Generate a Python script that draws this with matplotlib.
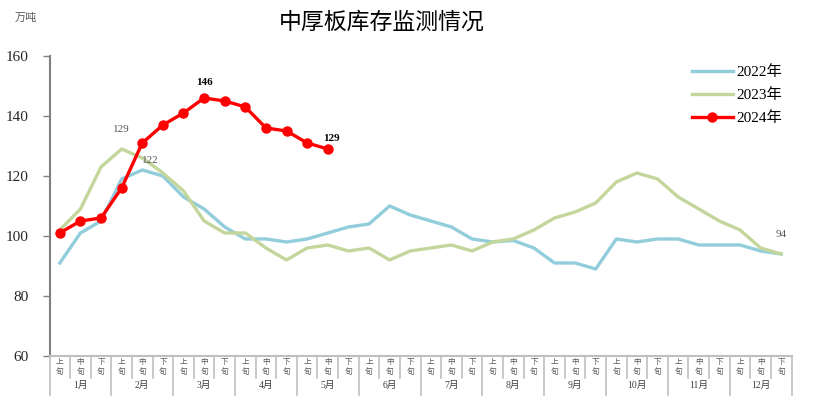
import matplotlib
matplotlib.use("Agg")
import matplotlib.pyplot as plt
import matplotlib.transforms as mtransforms
import numpy as np

plt.rcParams['font.family'] = ['Liberation Serif', 'Noto Sans CJK SC']

# -------------------- DADOS --------------------
meses = ["1月", "2月", "3月", "4月", "5月", "6月",
         "7月", "8月", "9月", "10月", "11月", "12月"]
xunhao = ["上\n旬", "中\n旬", "下\n旬"]

s2022 = [91, 101, 105, 119, 122, 120, 113, 109, 103, 99, 99, 98,
         99, 101, 103, 104, 110, 107, 105, 103, 99, 98, 98.5, 96,
         91, 91, 89, 99, 98, 99, 99, 97, 97, 97, 95, 94]
s2023 = [102, 109, 123, 129, 126, 121, 115, 105, 101, 101, 96, 92,
         96, 97, 95, 96, 92, 95, 96, 97, 95, 98, 99, 102,
         106, 108, 111, 118, 121, 119, 113, 109, 105, 102, 96, 94]
s2024 = [101, 105, 106, 116, 131, 137, 141, 146, 145, 143, 136, 135, 131, 129]

# -------------------- FIGURA --------------------
fig = plt.figure(figsize=(8.13, 3.97), dpi=100)
ax = fig.add_axes([0.0609, 0.1033, 0.9127, 0.7557])

x22 = np.arange(len(s2022)) + 0.5
x23 = np.arange(len(s2023)) + 0.5
x24 = np.arange(len(s2024)) + 0.5

ax.plot(x22, s2022, color="#92CDDC", lw=2.4, label="2022年", solid_joinstyle="round")
ax.plot(x23, s2023, color="#C3D69B", lw=2.4, label="2023年", solid_joinstyle="round")
ax.plot(x24, s2024, color="#FF0000", lw=2.4, marker="o", ms=6.5, label="2024年")

ax.set_xlim(0, 36)
ax.set_ylim(60, 160)
ax.set_yticks(np.arange(60, 161, 20))
ax.tick_params(axis="y", length=5, width=1, color="#808080", labelsize=11,
               labelcolor="#262626", pad=10)
ax.set_xticks([])
for s in ["top", "right"]:
    ax.spines[s].set_visible(False)
ax.spines["left"].set_color("#808080")
ax.spines["left"].set_linewidth(1.5)
ax.spines["bottom"].set_color("#BFBFBF")
ax.spines["bottom"].set_linewidth(1.5)

# eixo de categorias em dois níveis
trans = mtransforms.blended_transform_factory(ax.transData, ax.transAxes)
for i in range(37):
    fundo = -0.13 if i % 3 == 0 else -0.0733
    ax.plot([i, i], [0, fundo], color="#BFBFBF", lw=1.2, transform=trans, clip_on=False)
for i in range(36):
    ax.text(i + 0.5, -0.036, xunhao[i % 3], transform=trans, ha="center", va="center",
            fontsize=5.5, color="#595959", linespacing=1.3, family="Noto Sans CJK SC")
for m, nome in enumerate(meses):
    ax.text(m * 3 + 1.5, -0.097, nome, transform=trans, ha="center", va="center",
            fontsize=7, color="#404040")

# rótulos
ax.text(3.5, s2023[3] + 5, "129", ha="center", va="bottom", fontsize=8, color="#595959")
ax.text(4.9, s2022[4] + 1.5, "122", ha="center", va="bottom", fontsize=8, color="#595959")
ax.text(35.5, s2023[35] + 5, "94", ha="center", va="bottom", fontsize=8, color="#595959")
ax.text(7.5, s2024[7] + 3.5, "146", ha="center", va="bottom", fontsize=8, weight="bold")
ax.text(13.7, s2024[13] + 2, "129", ha="center", va="bottom", fontsize=8, weight="bold")

ax.legend(loc="upper right", bbox_to_anchor=(1.0, 1.0), frameon=False, fontsize=11,
          handlelength=2.7, handletextpad=0.25, labelspacing=0.6, borderaxespad=0.2)

fig.text(0.469, 0.943, "中厚板库存监测情况", ha="center", va="center", fontsize=16.5,
         family="Noto Sans CJK SC")
fig.text(0.0185, 0.955, "万吨", ha="left", va="center", fontsize=8, color="#595959",
         family="Noto Sans CJK SC")

fig.savefig("out.png", dpi=100)
